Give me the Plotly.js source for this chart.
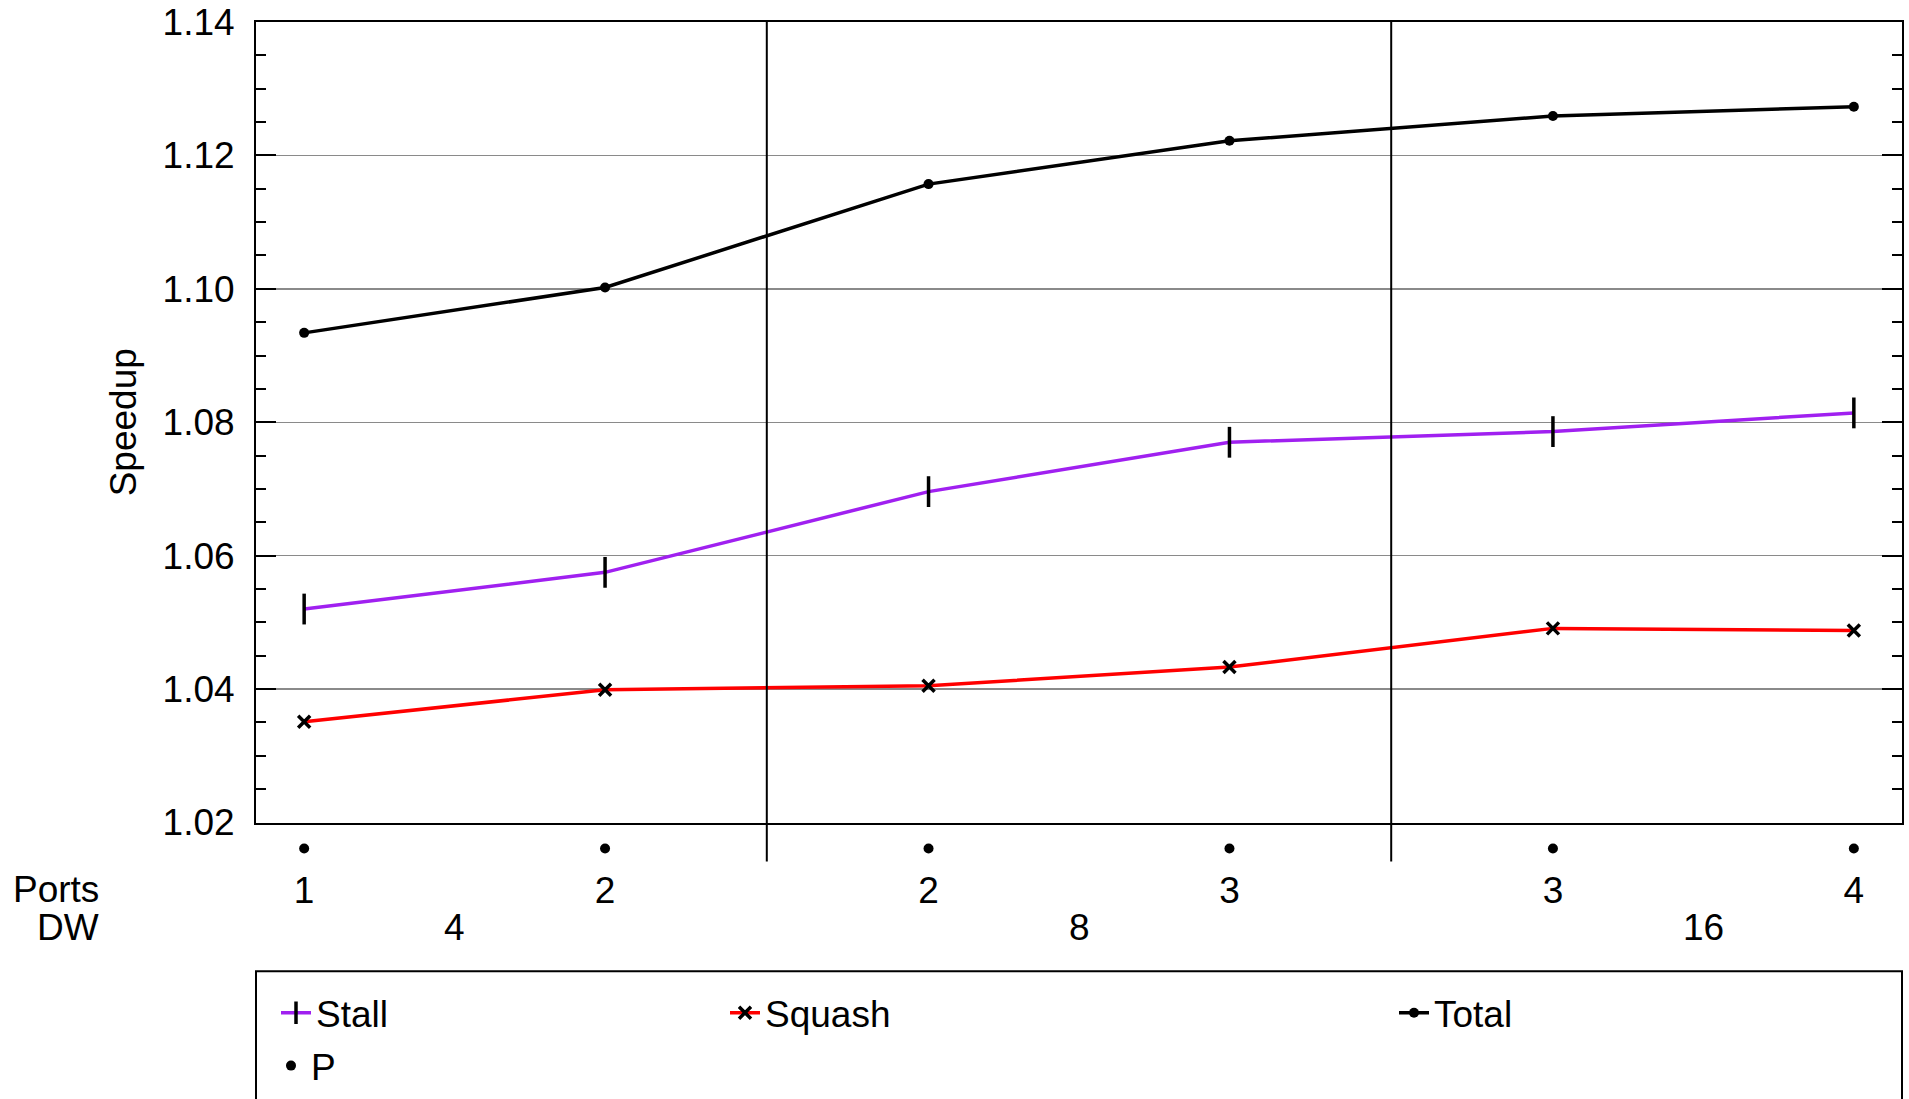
<!DOCTYPE html>
<html>
<head>
<meta charset="utf-8">
<script src="https://cdn.plot.ly/plotly-3.0.1.min.js"></script>
<style>html,body{margin:0;padding:0;background:#fff;}#chart{width:1909px;height:1099px;}</style>
</head>
<body>
<div id="chart"></div>
<script>
// ---- data ----
var ports = ['1', '2', '2', '3', '3', '4'];
var dw = ['4', '4', '8', '8', '16', '16'];
var stall = [1.0520, 1.0575, 1.0696, 1.0770, 1.0786, 1.0814];
var squash = [1.0351, 1.0399, 1.0405, 1.0433, 1.0491, 1.0488];
var total = [1.0934, 1.1002, 1.1157, 1.1222, 1.1259, 1.1273];
var pRow = [0, 0, 0, 0, 0, 0];
var seriesNames = ['Stall', 'Squash', 'Total', 'P'];
var rowLabels = ['Ports', 'DW'];

// ---- layout helpers ----
var W = 1909, H = 1099;
var mL = 256, mR = 7, mT = 22, mB = 2;
var paperH = H - mT - mB;
var axisY = 824;                      // pixel row of the x axis line
var py = function (Y) { return (H - mB - Y) / paperH; };
var px = function (X) { return (X - mL) / (W - mL - mR); };

// x positions: equal spacing inside a DW group, a small extra gap between groups
var groupGap = 0.075;
var groups = [];
dw.forEach(function (g) { if (groups.indexOf(g) < 0) groups.push(g); });
var xpos = dw.map(function (g, i) { return i + groups.indexOf(g) * groupGap; });

var FONT = 'Liberation Sans, Arial, sans-serif';
var FS = 37;

var traces = [
  {
    x: xpos, y: stall, name: seriesNames[0], type: 'scatter', mode: 'lines+markers',
    line: {color: '#A020F0', width: 3.5},
    marker: {symbol: 'line-ns', size: 22, color: '#000', line: {color: '#000', width: 3.5}},
    legend: 'legend'
  },
  {
    x: xpos, y: squash, name: seriesNames[1], type: 'scatter', mode: 'lines+markers',
    line: {color: '#FF0000', width: 3.5},
    marker: {symbol: 'x-thin', size: 12, color: '#000', line: {color: '#000', width: 3.5}},
    legend: 'legend2'
  },
  {
    x: xpos, y: total, name: seriesNames[2], type: 'scatter', mode: 'lines+markers',
    line: {color: '#000', width: 3.5},
    marker: {symbol: 'circle', size: 10, color: '#000'},
    legend: 'legend3'
  },
  {
    x: xpos, y: pRow, name: seriesNames[3], type: 'scatter', mode: 'markers',
    xaxis: 'x', yaxis: 'y2',
    marker: {symbol: 'circle', size: 10, color: '#000'},
    legend: 'legend4'
  }
];

// group dividers: halfway between last point of a group and first of next
var shapes = [];
for (var i = 1; i < xpos.length; i++) {
  if (dw[i] !== dw[i - 1]) {
    var xm = (xpos[i] + xpos[i - 1]) / 2;
    shapes.push({type: 'line', xref: 'x', yref: 'paper', x0: xm, x1: xm,
      y0: py(863), y1: 1, line: {color: '#000', width: 2}});
  }
}
// legend frame
shapes.push({type: 'rect', xref: 'paper', yref: 'paper', x0: 0, x1: 1,
  y0: py(1115), y1: py(973), line: {color: '#000', width: 2}, fillcolor: 'rgba(0,0,0,0)'});

var annotations = [];
// DW labels centred on each group
groups.forEach(function (g) {
  var xs = xpos.filter(function (_, i) { return dw[i] === g; });
  var c = (Math.min.apply(null, xs) + Math.max.apply(null, xs)) / 2;
  annotations.push({xref: 'x', yref: 'paper', x: c, y: py(929), text: g, showarrow: false,
    xanchor: 'center', yanchor: 'middle', font: {family: FONT, size: FS, color: '#000'}});
});
annotations.push({xref: 'paper', yref: 'paper', x: px(101), y: py(891), text: rowLabels[0],
  showarrow: false, xanchor: 'right', yanchor: 'middle', font: {family: FONT, size: FS, color: '#000'}});
annotations.push({xref: 'paper', yref: 'paper', x: px(101), y: py(929), text: rowLabels[1],
  showarrow: false, xanchor: 'right', yanchor: 'middle', font: {family: FONT, size: FS, color: '#000'}});

var legBase = {bgcolor: 'rgba(0,0,0,0)', borderwidth: 0, font: {family: FONT, size: FS, color: '#000'},
  xanchor: 'left', yanchor: 'middle', orientation: 'v', tracegroupgap: 0};
function leg(xp, yp) { var o = Object.assign({}, legBase); o.x = px(xp); o.y = py(yp); return o; }

var layout = {
  width: W, height: H,
  margin: {l: mL, r: mR, t: mT, b: mB, pad: 0},
  paper_bgcolor: '#fff', plot_bgcolor: '#fff',
  font: {family: FONT, size: FS, color: '#000'},
  showlegend: true,
  xaxis: {
    range: [-0.16, xpos[xpos.length - 1] + 0.16],
    tickvals: xpos, ticktext: ports, ticks: '', showgrid: false, zeroline: false,
    showline: true, linecolor: '#000', linewidth: 2, mirror: true,
    anchor: 'y', ticklabelstandoff: 34,
    tickfont: {family: FONT, size: FS, color: '#000'}
  },
  yaxis: {
    domain: [py(axisY), 1], anchor: 'x',
    range: [1.02, 1.14], dtick: 0.02, tick0: 1.02, tickformat: '.2f',
    ticks: 'inside', ticklen: 20, tickwidth: 2, tickcolor: '#000',
    showline: true, linecolor: '#000', linewidth: 2, mirror: 'ticks',
    showgrid: true, gridcolor: '#8a8a8a', gridwidth: 1.5, zeroline: false,
    minor: {ticks: 'inside', ticklen: 10, tickwidth: 2, tickcolor: '#000', dtick: 0.005, showgrid: false},
    ticklabelstandoff: 12,
    tickfont: {family: FONT, size: FS, color: '#000'},
    title: {text: 'Speedup', font: {family: FONT, size: FS, color: '#000'}, standoff: 15}
  },
  yaxis2: {
    domain: [py(873), py(827)], anchor: 'x', range: [-1, 1], visible: false, fixedrange: true
  },
  legend: leg(276, 1015),
  legend2: leg(725, 1015),
  legend3: leg(1394, 1015),
  legend4: leg(271, 1068),
  shapes: shapes,
  annotations: annotations,
  hovermode: false
};

Plotly.newPlot('chart', traces, layout, {displayModeBar: false, staticPlot: true});
</script>
</body>
</html>
